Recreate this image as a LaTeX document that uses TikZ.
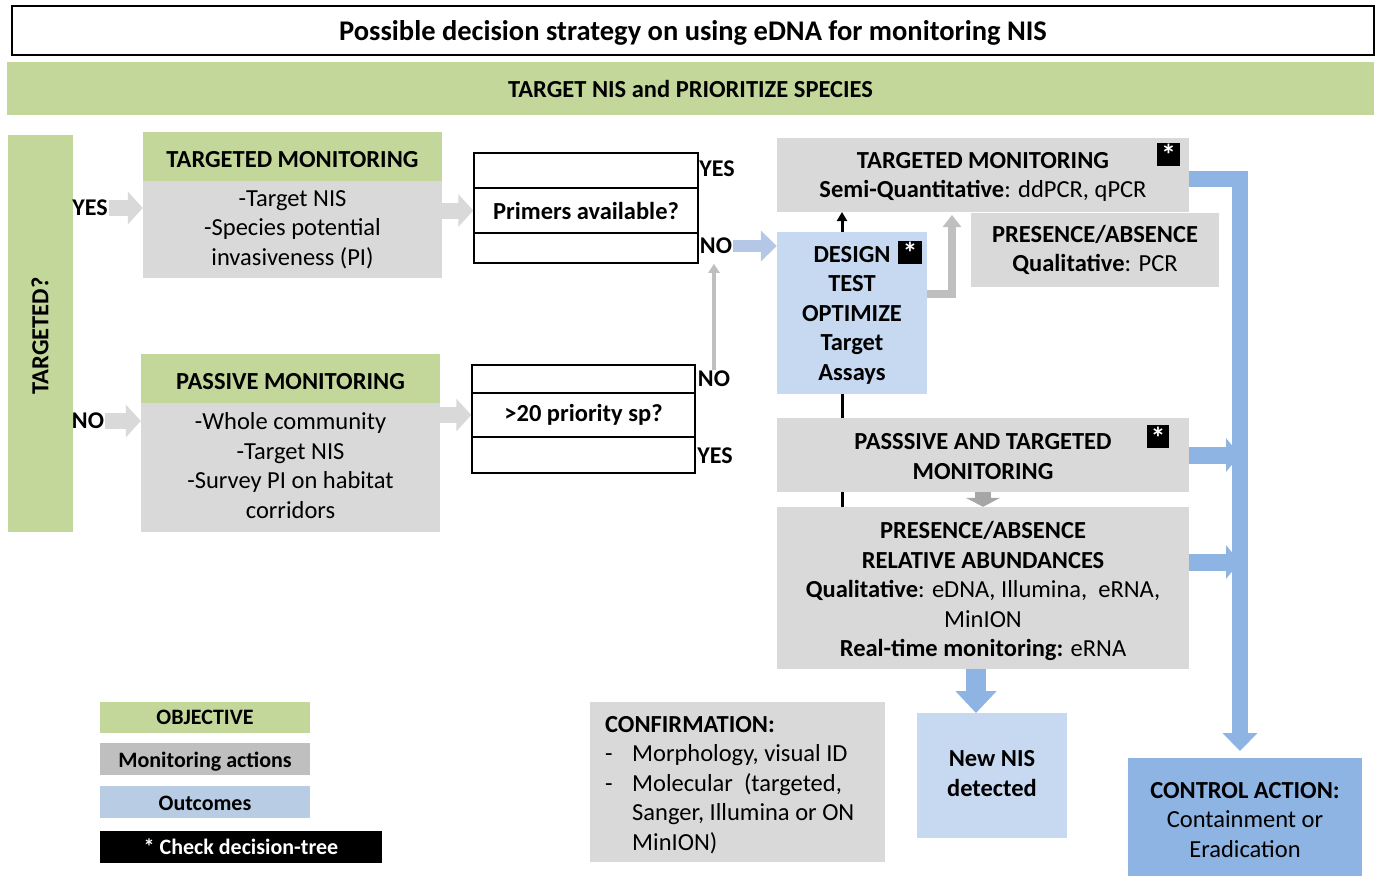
\documentclass[tikz,border=0pt]{standalone}
\usepackage{fontspec}
\setmainfont{Carlito}
\usetikzlibrary{arrows.meta}
\definecolor{cgreen}{HTML}{C4D79B}
\definecolor{cgray}{HTML}{D9D9D9}
\definecolor{cgrayB}{HTML}{BFBFBF}
\definecolor{cgrayC}{HTML}{A6A6A6}
\definecolor{clblue}{HTML}{C6D9F1}
\definecolor{cblueA}{HTML}{B4C7E7}
\definecolor{cblueL}{HTML}{B8CCE4}
\definecolor{cmblue}{HTML}{8DB4E2}
% box from (x1,y1) to (x2,y2); text centred, moved down by dy
\newcommand\Rbx[8][]{%
  \node[rbx,#1,minimum width={(#5-#3)*1pt},minimum height={(#6-#4)*1pt}] (#2) at ({(#3+#5)/2},{(#4+#6)/2}) {};%
  \node[rbx,#1,draw=none,fill=none,yshift={-(#7)*1pt}] (#2t) at (#2.center) {#8};}
\tikzset{
  rbx/.style={rectangle,inner sep=0pt,align=center,font=\fontsize{24.5}{29.5}\selectfont},
  bf/.style={font=\fontsize{24.5}{29.5}\selectfont\bfseries},
  hd/.style={font=\fontsize{24.5}{29.5}\selectfont\bfseries},
  lab/.style={inner sep=1pt,font=\fontsize{24}{26}\selectfont\bfseries},
  star/.style={fill=black,text=white,font=\fontsize{30}{30}\selectfont\bfseries,text height=23pt,text depth=0pt},
  larr/.style={line width=16pt,draw=#1,-{Triangle[width=32pt,length=15pt]}},
  leg/.style={font=\fontsize{22}{24}\selectfont\bfseries}
}
\begin{document}
\begin{tikzpicture}[x=1pt,y=-1pt]
\useasboundingbox (0,0) rectangle (1379,876);
% lines behind boxes
\coordinate (blk) at (842,507);
% title and banner
\Rbx[draw=black,line width=2pt,font=\fontsize{28.5}{32}\selectfont\bfseries]{title}{12}{6}{1374}{55}{2}{Possible decision strategy on using eDNA for monitoring NIS}
\Rbx[fill=cgreen,bf]{banner}{7}{62}{1374}{115}{0}{TARGET NIS and PRIORITIZE SPECIES}
% left bar
\Rbx[fill=cgreen]{bar}{8}{135}{73}{532}{0}{}
\node[bf,rotate=90] (barlab) at (40,336) {TARGETED?};
% targeted monitoring (left)
\Rbx[fill=cgreen,hd]{tmh}{143}{132}{442}{181}{3}{TARGETED MONITORING}
\Rbx[fill=cgray]{tmb}{143}{181}{442}{278}{0}{-Target NIS\\-Species potential\\invasiveness (PI)}
% passive monitoring
\Rbx[fill=cgreen,hd]{pmh}{141}{354}{440}{403}{3}{PASSIVE MONITORING}
\Rbx[fill=cgray]{pmb}{141}{403}{440}{532}{-2}{-Whole community\\-Target NIS\\-Survey PI on habitat\\corridors}
% yes / no labels
\node[lab] (yes1) at (90,208) {YES};
\node[lab] (no1) at (88,421) {NO};
\draw[larr=cgray] (yes1.east) -- (yes1.east -| tmb.west);
\draw[larr=cgray] (no1.east) -- (no1.east -| pmb.west);
% primers decision
\Rbx[draw=black,line width=1.5pt]{p1}{474}{153}{698}{188}{0}{}
\Rbx[draw=black,line width=1.5pt,bf]{p2}{474}{188}{698}{233}{0}{Primers available?}
\Rbx[draw=black,line width=1.5pt]{p3}{474}{233}{698}{263}{0}{}
% >20 decision
\Rbx[draw=black,line width=1.5pt]{q1}{472}{365}{695}{393}{0}{}
\Rbx[draw=black,line width=1.5pt,bf]{q2}{472}{393}{695}{437}{0}{>20 priority sp?}
\Rbx[draw=black,line width=1.5pt]{q3}{472}{437}{695}{473}{0}{}
\node[lab] (pyes) at (717,169) {YES};
\node[lab] (pno) at (716,246) {NO};
\node[lab] (qno) at (714,379) {NO};
\node[lab] (qyes) at (715,456) {YES};
\draw[larr=cgray] (tmb.east |- p2.west) -- (p2.west);
\draw[larr=cgray] (pmb.east |- q2.west) -- (q2.west);
\draw[line width=4pt,draw=cgrayB,-{Triangle[width=11pt,length=9pt]}] (qno.north) -- (qno.north |- p3.south);
% black vertical line
\draw[line width=3pt,-{Triangle[width=10pt,length=9pt]}] (blk) -- (842,212);
% right column boxes
\Rbx[fill=cgray]{tm2}{777}{138}{1189}{212}{2}{\textbf{TARGETED MONITORING}\\\textbf{Semi-Quantitative}: ddPCR, qPCR}
\Rbx[fill=cgray]{pa1}{971}{213}{1219}{287}{0}{\textbf{PRESENCE/ABSENCE}\\\textbf{Qualitative}: PCR}
\Rbx[fill=clblue,bf]{design}{777}{232}{927}{394}{2}{DESIGN\\TEST\\OPTIMIZE\\Target\\Assays}
\Rbx[fill=cgray,bf]{pt}{777}{418}{1189}{492}{1.5}{PASSSIVE AND TARGETED\\MONITORING}
\Rbx[fill=cgray]{pa2}{777}{507}{1189}{669}{3}{\textbf{PRESENCE/ABSENCE}\\\textbf{RELATIVE ABUNDANCES}\\\textbf{Qualitative}: eDNA, Illumina,\ \ eRNA,\\MinION\\\textbf{Real-time monitoring:} eRNA}
% asterisk squares
\Rbx[star]{s1}{1157}{143}{1180}{165}{0}{*}
\Rbx[star]{s2}{898}{241}{922}{263}{0}{*}
\Rbx[star]{s3}{1147}{426}{1169}{447}{0}{*}
% arrows in right column
\draw[line width=12pt,draw=cblueA,-{Triangle[width=30pt,length=16pt]}] (pno.east) -- (pno.east -| design.west);
\coordinate (lc) at (952,215);
\draw[line width=8pt,draw=cgrayB,-{Triangle[width=18pt,length=12pt]}] ([yshift=19pt]design.east) -| (lc);
\draw[line width=16pt,draw=cgrayC,-{Triangle[width=34pt,length=9pt]}] (pt.south) -- (pt.south |- pa2.north);
% outcomes
\Rbx[fill=clblue,bf]{nn}{917}{713}{1067}{838}{-2}{New NIS\\detected}
\coordinate (bd) at (976,713);
\draw[line width=20pt,draw=cmblue,-{Triangle[width=40pt,length=22pt]}] (bd |- pa2.south) -- (bd);
\Rbx[fill=cmblue]{ca}{1128}{758}{1362}{876}{3}{\textbf{CONTROL ACTION:}\\Containment or\\Eradication}
% right bracket
\coordinate (rb) at (1240,751);
\draw[line width=17pt,draw=cmblue,-{Triangle[width=33pt,length=14pt]}] (pt.east) -- (pt.east -| rb);
\draw[line width=17pt,draw=cmblue,-{Triangle[width=33pt,length=14pt]}] ([yshift=26pt]pa2.east) -- ([yshift=26pt]pa2.east -| rb);
\draw[line width=16pt,draw=cmblue,-{Triangle[width=34pt,length=18pt]}] ([yshift=-4pt]tm2.east) -| (rb);
% confirmation
\Rbx[fill=cgray]{conf}{590}{702}{885}{862}{0}{}
\node[anchor=north west,inner sep=0pt,align=left,font=\fontsize{24.5}{29.5}\selectfont] (conft) at (605,716) {\textbf{CONFIRMATION:}\\\makebox[27pt][l]{-}Morphology, visual ID\\\makebox[27pt][l]{-}Molecular\ \ (targeted,\\\hspace*{27pt}Sanger, Illumina or ON\\\hspace*{27pt}MinION)};
% legend
\Rbx[fill=cgreen,leg]{l1}{100}{702}{310}{733}{0}{OBJECTIVE}
\Rbx[fill=cgrayB,leg]{l2}{100}{743}{310}{775}{3}{Monitoring actions}
\Rbx[fill=cblueL,leg]{l3}{100}{786}{310}{818}{1}{Outcomes}
\Rbx[fill=black,text=white,leg]{l4}{100}{831}{382}{863}{0}{* Check decision-tree}
\end{tikzpicture}
\end{document}
